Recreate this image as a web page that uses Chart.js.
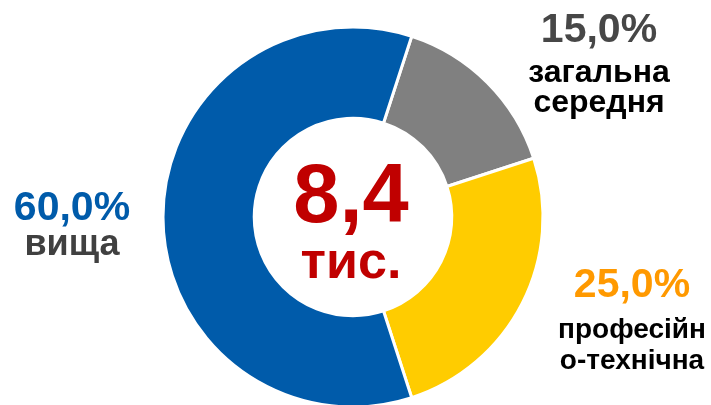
<!DOCTYPE html>
<html><head><meta charset="utf-8">
<script src="https://cdn.jsdelivr.net/npm/chart.js@4"></script>
<style>
html,body{margin:0;padding:0;background:#fff;overflow:hidden;width:711px;height:405px}
#wrap{position:absolute;left:0;top:0;width:711px;height:434px}
</style></head>
<body>
<div id="wrap"><canvas id="c"></canvas></div>
<script>
const categories = ['загальна середня', 'професійно-технічна', 'вища'];
const shares = [15.0, 25.0, 60.0];
const labelLines = [['загальна', 'середня'], ['професійн', 'о-технічна'], ['вища']];
const totalLabel = ['8,4', 'тис.'];
const segmentColors = ['#808080', '#FFCC00', '#005BAA'];
const pctColors = ['#474747', '#FF9900', '#005BAA'];
const nameColors = ['#000000', '#000000', '#404040'];

const FONT = '"Liberation Sans", Arial, sans-serif';

const labelPlugin = {
  id: 'labels',
  afterDraw(chart) {
    const ctx = chart.ctx;
    const meta = chart.getDatasetMeta(0);
    const arc = meta.data[0];
    const cx = arc.x, cy = arc.y;
    ctx.save();
    ctx.textAlign = 'center';
    ctx.textBaseline = 'alphabetic';
    // center total
    ctx.fillStyle = '#C00000';
    ctx.font = 'bold 83px ' + FONT;
    ctx.fillText(totalLabel[0], cx - 2, 222);
    ctx.font = 'bold 52px ' + FONT;
    ctx.fillText(totalLabel[1], cx - 2, 278);
    // outside labels
    const pos = chart.options.plugins.labels.positions;
    shares.forEach((v, i) => {
      const p = pos[i];
      ctx.fillStyle = pctColors[i];
      ctx.font = 'bold 41px ' + FONT;
      ctx.fillText(v.toFixed(1).replace('.', ',') + '%', p.x, p.y);
      ctx.fillStyle = nameColors[i];
      ctx.font = 'bold ' + p.size + 'px ' + FONT;
      labelLines[i].forEach((t, j) => {
        ctx.fillText(t, p.x, p.y + p.first + j * p.gap);
      });
    });
    ctx.restore();
  }
};

new Chart(document.getElementById('c'), {
  type: 'doughnut',
  data: {
    labels: categories,
    datasets: [{
      data: shares,
      backgroundColor: segmentColors,
      borderColor: '#ffffff',
      borderWidth: 3,
      hoverOffset: 0
    }]
  },
  options: {
    responsive: true,
    maintainAspectRatio: false,
    animation: false,
    rotation: 18,
    radius: 190,
    cutout: 98,
    layout: { padding: { left: 163, right: 168, top: 27, bottom: 27 } },
    plugins: {
      legend: { display: false },
      tooltip: { enabled: false },
      labels: {
        positions: [
          { x: 599, y: 42, size: 32, first: 40, gap: 30 },
          { x: 632, y: 297, size: 28, first: 41, gap: 31 },
          { x: 72, y: 220, size: 36, first: 35, gap: 32 }
        ]
      }
    }
  },
  plugins: [labelPlugin]
});
</script>
</body></html>
